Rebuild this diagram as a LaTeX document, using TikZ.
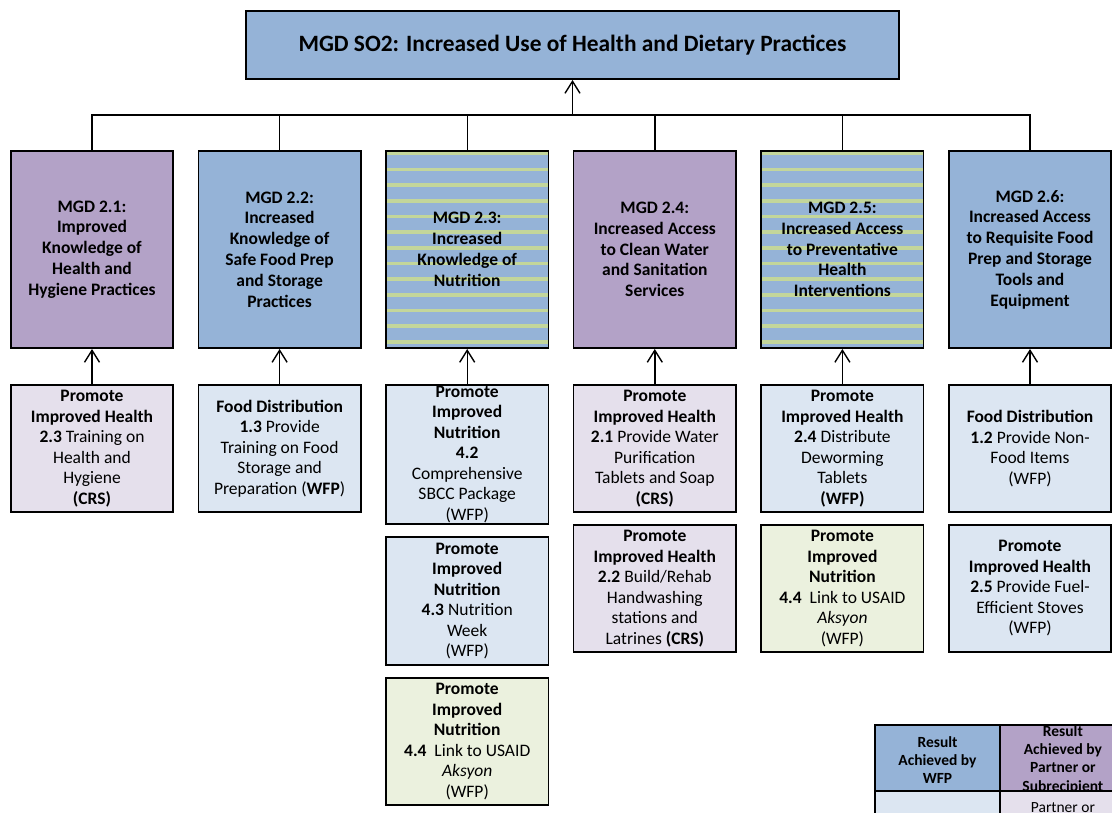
\documentclass[tikz,border=0pt]{standalone}
\usepackage{fontspec}
\setmainfont{Carlito}
\usepackage{tikz}
\usetikzlibrary{positioning, arrows.meta}

\definecolor{goalblue}{HTML}{95B3D7}
\definecolor{goalpurple}{HTML}{B3A2C7}
\definecolor{actblue}{HTML}{DCE6F2}
\definecolor{actpurple}{HTML}{E5E0EC}
\definecolor{actgreen}{HTML}{EBF1DE}
\definecolor{stripegreen}{HTML}{C3D69B}

\begin{document}
\begin{tikzpicture}[x=1pt, y=-1pt,
    sobox/.style={rectangle, draw=black, fill=goalblue, line width=1.6pt, minimum width=653.4pt, minimum height=68.4pt, font=\fontsize{23.4}{28}\selectfont\bfseries},
    mgdbox/.style={rectangle, draw=black, line width=1.6pt, minimum width=162.4pt, minimum height=197.4pt, align=center, font=\fontsize{17.5}{20.8}\selectfont\bfseries},
    striped/.style={fill=goalblue, path picture={\foreach \k in {0,...,12} \fill[stripegreen] ([yshift={-1.3pt-\k*15.67pt}]path picture bounding box.north west) rectangle ([yshift={-4.7pt-\k*15.67pt}]path picture bounding box.north east);}},
    actbox/.style={rectangle, draw=black, line width=1.6pt, minimum width=162.4pt, minimum height=127.4pt, inner ysep=0pt, align=center, font=\fontsize{17.5}{20.5}\selectfont},
    legcell/.style={rectangle, draw=black, line width=1.6pt, outer sep=0pt, minimum width=125.4pt, minimum height=66.4pt},
    legtext/.style={align=center, inner sep=0pt, font=\fontsize{15.5}{18.3}\selectfont\bfseries},
    line/.style={draw, -{Straight Barb[length=12pt, width=15pt]}, line width=1.4pt},
    bus/.style={draw, line width=1.4pt}]

    \useasboundingbox (0,0) rectangle (1112,813);

    \node [sobox] (so2) at (572.5,45) {MGD SO2: Increased Use of Health and Dietary Practices};

    \node [mgdbox, fill=goalpurple] (m21) at (92,249.5) {MGD 2.1:\\Improved\\Knowledge of\\Health and\\Hygiene Practices};
    \node [mgdbox, fill=goalblue, right=23.6pt of m21] (m22) {MGD 2.2:\\Increased\\Knowledge of\\Safe Food Prep\\and Storage\\Practices};
    \node [mgdbox, striped, right=23.6pt of m22] (m23) {MGD 2.3:\\Increased\\Knowledge of\\Nutrition};
    \node [mgdbox, fill=goalpurple, right=23.6pt of m23] (m24) {MGD 2.4:\\Increased Access\\to Clean Water\\and Sanitation\\Services};
    \node [mgdbox, striped, right=23.6pt of m24] (m25) {MGD 2.5:\\Increased Access\\to Preventative\\Health\\Interventions};
    \node [mgdbox, fill=goalblue, right=23.6pt of m25] (m26) {MGD 2.6:\\Increased Access\\to Requisite Food\\Prep and Storage\\Tools and\\Equipment};

    \node [actbox, fill=actpurple, below=35pt of m21] (a23) {\textbf{Promote}\\\textbf{Improved Health}\\\textbf{2.3} Training on\\Health and\\Hygiene\\\textbf{(CRS)}};
    \node [actbox, fill=actblue, below=35pt of m22] (a13) {\textbf{Food Distribution}\\\textbf{1.3} Provide\\Training on Food\\Storage and\\Preparation (\textbf{WFP})};
    \node [actbox, fill=actblue, minimum height=139.4pt, below=35pt of m23] (a42) {\textbf{Promote}\\\textbf{Improved}\\\textbf{Nutrition}\\\textbf{4.2}\\Comprehensive\\SBCC Package\\(WFP)};
    \node [actbox, fill=actblue, minimum height=128.4pt, below=11pt of a42] (a43) {\textbf{Promote}\\\textbf{Improved}\\\textbf{Nutrition}\\\textbf{4.3} Nutrition\\Week\\(WFP)};
    \node [actbox, fill=actgreen, below=11pt of a43] (a44) {\textbf{Promote}\\\textbf{Improved}\\\textbf{Nutrition}\\\textbf{4.4}~~Link to USAID\\\textit{Aksyon}\\(WFP)};
    \node [actbox, fill=actpurple, below=35pt of m24] (a21) {\textbf{Promote}\\\textbf{Improved Health}\\\textbf{2.1} Provide Water\\Purification\\Tablets and Soap\\\textbf{(CRS)}};
    \node [actbox, fill=actpurple, below=11pt of a21] (a22) {\textbf{Promote}\\\textbf{Improved Health}\\\textbf{2.2} Build/Rehab\\Handwashing\\stations and\\Latrines \textbf{(CRS)}};
    \node [actbox, fill=actblue, below=35pt of m25] (a24) {\textbf{Promote}\\\textbf{Improved Health}\\\textbf{2.4} Distribute\\Deworming\\Tablets\\\textbf{(WFP)}};
    \node [actbox, fill=actgreen, below=11pt of a24] (a44b) {\textbf{Promote}\\\textbf{Improved}\\\textbf{Nutrition}\\\textbf{4.4}~~Link to USAID\\\textit{Aksyon}\\(WFP)};
    \node [actbox, fill=actblue, below=35pt of m26] (a12) {\textbf{Food Distribution}\\\textbf{1.2} Provide Non-\\Food Items\\(WFP)};
    \node [actbox, fill=actblue, below=11pt of a12] (a25) {\textbf{Promote}\\\textbf{Improved Health}\\\textbf{2.5} Provide Fuel-\\Efficient Stoves\\(WFP)};

    \coordinate (bus) at (572.5,115);
    \path [bus] (m21.north) |- (bus) -| (m26.north);
    \path [bus] (m22.north) -- (m22.north |- bus);
    \path [bus] (m23.north) -- (m23.north |- bus);
    \path [bus] (m24.north) -- (m24.north |- bus);
    \path [bus] (m25.north) -- (m25.north |- bus);
    \path [line] (bus) -- (so2.south);

    \path [line] (a23) -- (m21);
    \path [line] (a13) -- (m22);
    \path [line] (a42) -- (m23);
    \path [line] (a21) -- (m24);
    \path [line] (a24) -- (m25);
    \path [line] (a12) -- (m26);

    \begin{scope}
    \clip (0,0) rectangle (1112,813);
    \node [legcell, fill=goalblue] (legwfp) at (937.5,758) {};
    \node [legcell, fill=goalpurple, right=0pt of legwfp] (legpartner) {};
    \node [legtext] (legwfptext) at ([yshift=-2pt]legwfp.center) {Result\\Achieved by\\WFP};
    \node [legtext] (legpartnertext) at ([yshift=-1.5pt]legpartner.center) {Result\\Achieved by\\Partner or\\Subrecipient};
    \node [legcell, fill=actblue, below=0pt of legwfp] (legwfpact) {};
    \node [legcell, fill=actpurple, below=0pt of legpartner] (legpartneract) {};
    \node [legtext, font=\fontsize{15.5}{18.3}\selectfont, below=11pt of legpartneract.north] (legpartneracttext) {Partner or};
    \end{scope}
\end{tikzpicture}
\end{document}
